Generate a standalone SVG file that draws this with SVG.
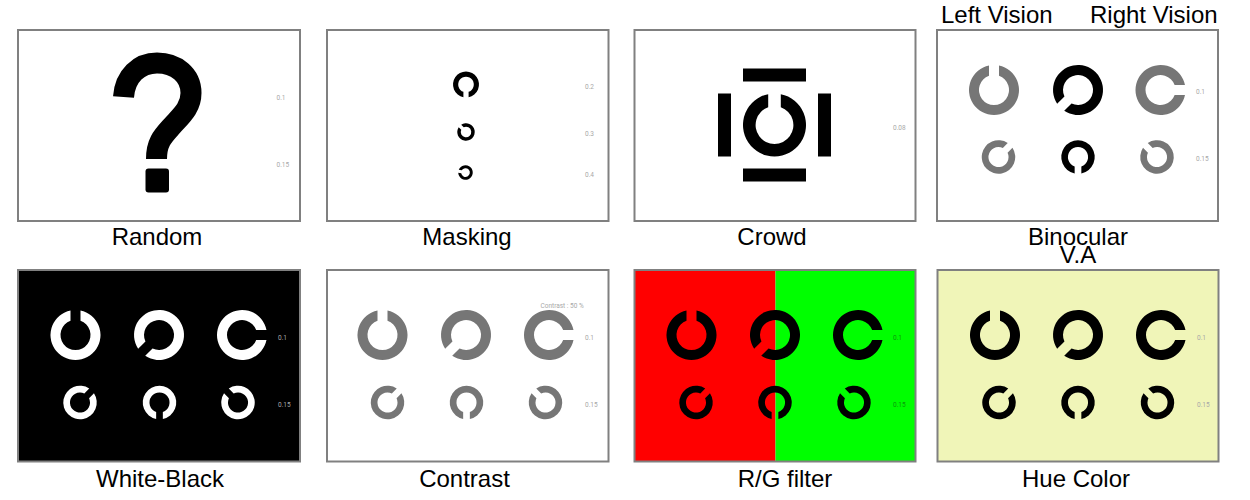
<svg xmlns="http://www.w3.org/2000/svg" width="1250" height="500" viewBox="0 0 1250 500">
<style>
text{font-family:"Liberation Sans",Arial,sans-serif}
.cap{font-size:24px;fill:#000;text-anchor:middle}
.top{font-size:24px;fill:#000}
.va{font-size:6.5px;fill:#a8a8a8;font-family:"Roboto","Liberation Sans",sans-serif}
.panel{fill:#fff;stroke:#808080;stroke-width:2}
.frame{fill:none;stroke:#808080;stroke-width:2}
.k{fill:#000}.w{fill:#fff}.g{fill:#767676}
</style>
<defs>
<path id="ring" d="M5 -24.49A25 25 0 1 1 -5 -24.49L-5 -14.14A15 15 0 1 0 5 -14.14Z"/>
</defs>
<rect width="1250" height="500" fill="#fff"/>

<g id="random">
<rect class="panel" x="18" y="30" width="282" height="191"/>
<path d="M123.500 97C125 76 139 63 157 63C176 63 191 75 191 93C191 108 181 116 172 126C163 136 156.500 142 156.500 159" fill="none" stroke="#000" stroke-width="21"/>
<rect class="k" x="145.500" y="168.500" width="23.500" height="24" rx="3"/>
<text class="va" x="276.500" y="100">0.1</text>
<text class="va" x="276.500" y="166.500">0.15</text>
<text class="cap" x="157" y="244.500">Random</text>
</g>

<g id="masking">
<rect class="panel" x="327" y="30" width="281.500" height="191"/>
<use href="#ring" class="k" transform="translate(466 84.500) rotate(180) scale(.52)"/>
<use href="#ring" class="k" transform="translate(466 132) rotate(315) scale(.35)"/>
<use href="#ring" class="k" transform="translate(465.500 172.500) rotate(280) scale(.29)"/>
<text class="va" x="585" y="89">0.2</text>
<text class="va" x="585" y="136">0.3</text>
<text class="va" x="585" y="176.500">0.4</text>
<text class="cap" x="467" y="244.500">Masking</text>
</g>

<g id="crowd">
<rect class="panel" x="634.500" y="30" width="281" height="191"/>
<use href="#ring" class="k" transform="translate(774.500 125) scale(1.26)"/>
<rect class="k" x="743" y="68.500" width="63" height="13"/>
<rect class="k" x="743" y="168.500" width="63" height="13"/>
<rect class="k" x="718" y="93.500" width="13" height="63"/>
<rect class="k" x="818" y="93.500" width="13" height="63"/>
<text class="va" x="893" y="129.500">0.08</text>
<text class="cap" x="772" y="244.500">Crowd</text>
</g>

<g id="binocular">
<rect class="panel" x="937" y="30" width="281" height="191"/>
<use href="#ring" class="g" transform="translate(994 90)"/>
<use href="#ring" class="k" transform="translate(1078 90) rotate(225)"/>
<use href="#ring" class="g" transform="translate(1160.500 90) rotate(90)"/>
<use href="#ring" class="g" transform="translate(998.500 157) rotate(45) scale(.67)"/>
<use href="#ring" class="k" transform="translate(1078 157) rotate(180) scale(.67)"/>
<use href="#ring" class="g" transform="translate(1157 157) rotate(315) scale(.67)"/>
<text class="va" x="1196" y="94">0.1</text>
<text class="va" x="1196" y="161">0.15</text>
<text class="top" x="941" y="23">Left Vision</text>
<text class="top" x="1090" y="23">Right Vision</text>
<text class="cap" x="1078" y="244.500">Binocular</text>
<text class="cap" x="1078" y="263">V.A</text>
</g>

<g id="white-black">
<rect x="18" y="270" width="282" height="191.500" fill="#000" stroke="#808080" stroke-width="2"/>
<use href="#ring" class="w" transform="translate(75.500 335)"/>
<use href="#ring" class="w" transform="translate(159 335) rotate(225)"/>
<use href="#ring" class="w" transform="translate(242 335) rotate(90)"/>
<use href="#ring" class="w" transform="translate(80 402.500) rotate(45) scale(.67)"/>
<use href="#ring" class="w" transform="translate(159.500 402.500) rotate(180) scale(.67)"/>
<use href="#ring" class="w" transform="translate(238 402.500) rotate(315) scale(.67)"/>
<text class="va" x="278" y="339.500">0.1</text>
<text class="va" x="278" y="406.500">0.15</text>
<text class="cap" x="160" y="486.500">White-Black</text>
</g>

<g id="contrast">
<rect class="panel" x="327" y="270" width="281.500" height="191.500"/>
<use href="#ring" class="g" transform="translate(382.500 335)"/>
<use href="#ring" class="g" transform="translate(466 335) rotate(225)"/>
<use href="#ring" class="g" transform="translate(549 335) rotate(90)"/>
<use href="#ring" class="g" transform="translate(387.500 402.500) rotate(45) scale(.67)"/>
<use href="#ring" class="g" transform="translate(466.500 402.500) rotate(180) scale(.67)"/>
<use href="#ring" class="g" transform="translate(545.500 402.500) rotate(315) scale(.67)"/>
<text class="va" x="540.500" y="308">Contrast : 50 %</text>
<text class="va" x="585" y="339.500">0.1</text>
<text class="va" x="585" y="406.500">0.15</text>
<text class="cap" x="464.500" y="486.500">Contrast</text>
</g>

<g id="rg-filter">
<rect x="634.500" y="270" width="141" height="191.500" fill="#f00"/>
<rect x="775.500" y="270" width="140" height="191.500" fill="#0f0"/>
<rect class="frame" x="634.500" y="270" width="281" height="191.500"/>
<use href="#ring" class="k" transform="translate(691.500 335)"/>
<use href="#ring" class="k" transform="translate(775 335) rotate(225)"/>
<use href="#ring" class="k" transform="translate(858 335) rotate(90)"/>
<use href="#ring" class="k" transform="translate(696 402.500) rotate(45) scale(.67)"/>
<use href="#ring" class="k" transform="translate(775 402.500) rotate(180) scale(.67)"/>
<use href="#ring" class="k" transform="translate(854 402.500) rotate(315) scale(.67)"/>
<text class="va" x="893" y="339.500" style="fill:#0a9a0a">0.1</text>
<text class="va" x="893" y="406.500" style="fill:#0a9a0a">0.15</text>
<text class="cap" x="785" y="486.500">R/G filter</text>
</g>

<g id="hue-color">
<rect x="937.500" y="270" width="281" height="191.500" fill="#f0f5b8" stroke="#808080" stroke-width="2"/>
<use href="#ring" class="k" transform="translate(995 335)"/>
<use href="#ring" class="k" transform="translate(1078 335) rotate(225)"/>
<use href="#ring" class="k" transform="translate(1161 335) rotate(90)"/>
<use href="#ring" class="k" transform="translate(999 402.500) rotate(45) scale(.67)"/>
<use href="#ring" class="k" transform="translate(1078 402.500) rotate(180) scale(.67)"/>
<use href="#ring" class="k" transform="translate(1157.500 402.500) rotate(315) scale(.67)"/>
<text class="va" x="1197" y="339.500">0.1</text>
<text class="va" x="1197" y="406.500">0.15</text>
<text class="cap" x="1076" y="486.500">Hue Color</text>
</g>
</svg>
